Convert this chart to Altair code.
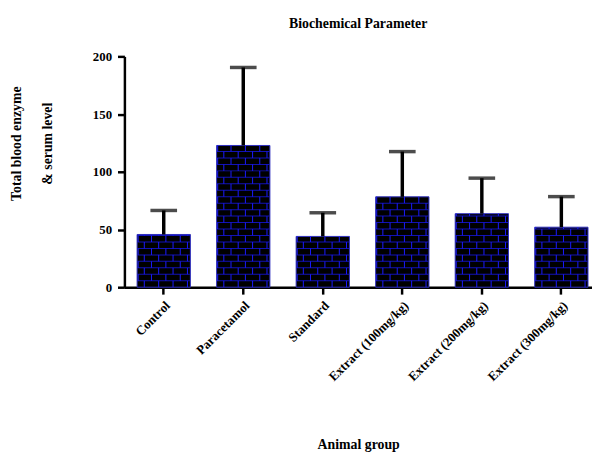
import altair as alt
import pandas as pd

groups = ["Control", "Paracetamol", "Standard", "Extract (100mg/kg)",
          "Extract (200mg/kg)", "Extract (300mg/kg)"]
means = [45.7, 122.8, 44.0, 78.3, 63.7, 52.0]
sds = [20.8, 67.6, 20.5, 39.2, 30.8, 26.5]

df = pd.DataFrame({"group": groups, "mean": means, "sd": sds})
df["upper"] = df["mean"] + df["sd"]

# brick texture rows (decoration), built from the bar heights
ROW = 5.6
rows = []
for g, m in zip(groups, means):
    i = 0
    while i * ROW < m - 0.3:
        y0 = i * ROW
        y1 = min((i + 1) * ROW, m)
        rows.append({"group": g, "y": y0, "y2": y1, "row": i})
        i += 1
bricks = pd.DataFrame(rows)

FONT = "Liberation Serif"
BLUE = "#1a1aff"

xscale = alt.Scale(domain=groups, paddingInner=0.33, paddingOuter=0.105, align=0.76)
yscale = alt.Scale(domain=[0, 200], nice=False)

xenc = alt.X("group:N", scale=xscale, sort=groups,
             axis=alt.Axis(title="Animal group", labelAngle=-45, labelAlign="right",
                           labelBaseline="top", labelFont=FONT, labelFontWeight="bold",
                           labelFontSize=13, labelColor="black", labelPadding=5,
                           tickSize=7, tickWidth=2.5, tickColor="black",
                           domainWidth=2.5, domainColor="black", grid=False,
                           titleFont=FONT, titleFontWeight="bold", titleFontSize=14,
                           titleColor="black", titleX=237, titleY=163,
                           titleBaseline="alphabetic", titleAnchor="middle"))
yenc = alt.Y("mean:Q", scale=yscale,
             axis=alt.Axis(title=["Total blood enzyme", "& serum level"],
                           values=[0, 50, 100, 150, 200], grid=False,
                           labelFont=FONT, labelFontWeight="bold", labelFontSize=13,
                           labelColor="black", labelPadding=6,
                           tickSize=7, tickWidth=2.5, tickColor="black",
                           domainWidth=2.5, domainColor="black",
                           titleFont=FONT, titleFontWeight="bold", titleFontSize=14,
                           titleColor="black", titleLineHeight=31,
                           titleX=-109, titleY=88, titleAngle=-90,
                           titleAlign="center", titleBaseline="middle"))

bars = alt.Chart(df).mark_bar(color="black", stroke="#3030c0", strokeWidth=1).encode(
    x=xenc, y=yenc)

hlines = alt.Chart(bricks).transform_filter("datum.row > 0").mark_tick(
    color=BLUE, thickness=1, size=53).encode(
    x=alt.X("group:N", scale=xscale, sort=groups),
    y=alt.Y("y:Q", scale=yscale))

layers = [bars, hlines]
even_pos = [0.135, 0.405, 0.675, 0.945]
odd_pos = [0.02, 0.27, 0.54, 0.81]
for parity, positions in ((0, even_pos), (1, odd_pos)):
    for p in positions:
        layers.append(
            alt.Chart(bricks).transform_filter(f"datum.row % 2 == {parity}")
            .mark_rule(color=BLUE, strokeWidth=1)
            .encode(x=alt.X("group:N", scale=xscale, sort=groups, bandPosition=p),
                    y=alt.Y("y:Q", scale=yscale), y2="y2:Q"))

err = alt.Chart(df).mark_rule(color="black", strokeWidth=3.5).encode(
    x=alt.X("group:N", scale=xscale, sort=groups),
    y=alt.Y("mean:Q", scale=yscale), y2="upper:Q")
cap = alt.Chart(df).mark_tick(color="black", thickness=3.5, size=27).encode(
    x=alt.X("group:N", scale=xscale, sort=groups),
    y=alt.Y("upper:Q", scale=yscale))
layers += [err, cap]

chart = alt.layer(*layers).properties(
    width=474, height=234, background="white",
    title=alt.TitleParams("Biochemical Parameter", font=FONT, fontWeight="bold",
                          fontSize=14, color="black", anchor="middle",
                          frame="group", offset=20),
    autosize=alt.AutoSizeParams(type="none"),
    padding={"left": 118, "top": 46, "right": 0, "bottom": 164},
).configure_view(stroke="transparent", strokeWidth=0).configure_axis(grid=False)

chart.save("out.html", embed_options={"renderer": "svg", "actions": False})
